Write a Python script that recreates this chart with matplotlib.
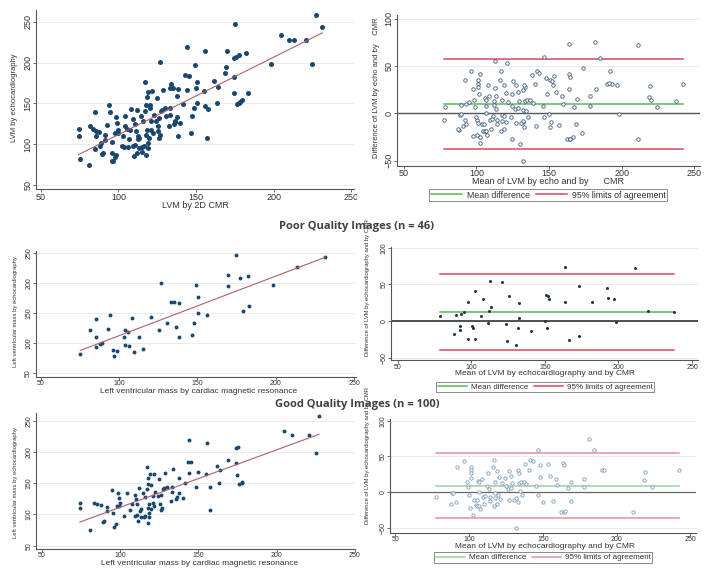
import numpy as np
import matplotlib
matplotlib.use("Agg")
import matplotlib.pyplot as plt
from matplotlib.lines import Line2D
from matplotlib.transforms import Bbox

plt.rcParams["font.family"] = ["Liberation Sans", "DejaVu Sans"]

W, H = 714, 573

# LVM (g)
poor_cmr = [75.3, 81.7, 85.1, 85.3, 85.1, 88.1, 89.0, 93.0, 94.3, 96.0,
            96.6, 98.5, 103.2, 104.0, 103.8, 105.7, 106.2, 108.3, 109.8, 112.6,
            115.1, 120.2, 125.5, 127.0, 130.4, 133.2, 134.9, 136.4, 138.3, 138.1,
            146.6, 147.7, 149.4, 150.6, 150.6, 156.0, 169.4, 169.8, 174.9, 177.4,
            182.3, 179.4, 183.2, 198.5, 213.4, 231.3]
poor_echo = [81.7, 122.8, 140.0, 110.6, 93.9, 98.3, 101.0, 123.3, 147.8, 88.9,
             79.4, 86.7, 110.6, 122.8, 96.7, 118.9, 96.1, 142.8, 85.6, 110.0,
             90.0, 144.4, 121.7, 200.6, 133.9, 168.3, 169.4, 127.2, 167.8, 110.6,
             113.9, 133.9, 197.2, 176.7, 150.0, 146.7, 195.0, 214.4, 247.2, 208.9,
             211.7, 153.9, 162.8, 197.8, 227.2, 243.9]

good_cmr = [74.4, 74.4, 81.1, 83.5, 85.6, 87.7, 89.2, 89.8, 91.5, 91.5,
            94.7, 95.6, 96.2, 97.7, 97.9, 98.7, 99.4, 99.6, 99.8, 102.3,
            104.2, 106.6, 107.8, 109.3, 109.3, 110.4, 110.8, 111.2, 112.1, 111.7,
            112.5, 113.6, 114.6, 115.1, 115.9, 116.3, 117.2, 117.4, 117.8, 118.0,
            118.4, 118.2, 118.9, 120.1, 119.7, 120.8, 121.6, 121.0, 122.0, 124.4,
            125.0, 126.3, 126.9, 127.3, 128.2, 129.0, 129.9, 132.6, 133.9, 133.3,
            135.8, 136.4, 137.5, 137.9, 140.0, 141.5, 143.2, 144.1, 143.9, 145.3,
            149.8, 148.7, 155.1, 155.7, 157.2, 157.6, 161.9, 163.3, 164.2, 168.9,
            174.2, 175.7, 174.2, 174.6, 176.1, 177.8, 178.2, 204.9, 210.0, 220.6,
            225.0, 227.1, 117.8, 122.7, 133.3, 126.0, 118.8, 118.8, 113.6, 125.5]
good_echo = [118.7, 109.7, 74.4, 118.7, 116.6, 115.0, 87.8, 88.8, 111.8, 105.4,
             139.5, 102.7, 79.2, 84.0, 113.9, 133.7, 126.2, 113.9, 117.7, 97.9,
             134.2, 106.5, 117.1, 131.0, 97.9, 124.6, 99.5, 116.1, 142.2, 89.0,
             105.9, 95.3, 134.7, 96.3, 128.3, 97.4, 140.1, 176.4, 110.7, 86.7,
             117.1, 158.2, 164.1, 147.5, 108.1, 128.9, 164.6, 117.7, 113.4, 128.9,
             156.1, 107.5, 110.7, 140.1, 142.2, 166.8, 144.3, 121.9, 173.2, 144.3,
             125.1, 127.8, 133.7, 158.8, 125.7, 149.7, 184.4, 166.2, 219.0, 183.3,
             168.4, 144.3, 164.6, 214.2, 107.0, 143.3, 176.9, 150.7, 170.5, 187.0,
             205.7, 207.3, 182.2, 163.0, 149.1, 150.7, 151.3, 233.5, 227.1, 227.6,
             197.7, 258.0, 148.2, 135.4, 135.4, 131.5, 101.8, 95.4, 108.0, 116.0]

all_cmr = poor_cmr + good_cmr
all_echo = poor_echo + good_echo

title_poor = "Poor Quality Images (n = 46)"
title_good = "Good Quality Images (n = 100)"

NAVY = "#1a476f"
fig = plt.figure(figsize=(W / 100, H / 100), dpi=100)


def axes_at(xref, yref, xlim, ylim):
    # place an axes so that the given data values land on the given pixels
    (xv1, xp1), (xv2, xp2) = xref
    sx = (xp2 - xp1) / (xv2 - xv1)
    left = xp1 + (xlim[0] - xv1) * sx
    right = xp1 + (xlim[1] - xv1) * sx
    (yv1, yp1), (yv2, yp2) = yref
    sy = (yp2 - yp1) / (yv2 - yv1)
    bottom = yp1 + (ylim[0] - yv1) * sy
    top = yp1 + (ylim[1] - yv1) * sy
    ax = fig.add_axes([left / W, 1 - bottom / H, (right - left) / W, (bottom - top) / H])
    ax.set_xlim(xlim)
    ax.set_ylim(ylim)
    for s in ("top", "right"):
        ax.spines[s].set_visible(False)
    for s in ("left", "bottom"):
        ax.spines[s].set_color("#555555")
        ax.spines[s].set_linewidth(0.8)
    ax.set_axisbelow(True)
    return ax


def style(ax, yticks, size, xlabel, xl_px, ylabel, yl_px, xsize, ysize):
    ax.set_xticks([50, 100, 150, 200, 250])
    ax.set_yticks(yticks)
    ax.grid(axis="y", color="#e8e8e8", lw=0.6)
    ax.tick_params(length=2, width=0.6, color="#555555", labelsize=size, pad=0.5,
                   labelcolor="#333333")
    plt.setp(ax.get_yticklabels(), rotation=90, va="center")
    ax.set_xlabel(xlabel, fontsize=xsize, color="#333333")
    ax.xaxis.set_label_coords(xl_px[0] / W, 1 - xl_px[1] / H, transform=fig.transFigure)
    ax.xaxis.label.set_va("center")
    ax.set_ylabel(ylabel, fontsize=ysize, color="#333333")
    ax.yaxis.set_label_coords(yl_px[0] / W, 1 - yl_px[1] / H, transform=fig.transFigure)
    ax.yaxis.label.set_va("center")


def scatter_panel(ax, cmr, echo, ms):
    cmr = np.asarray(cmr)
    echo = np.asarray(echo)
    ax.plot(cmr, echo, "o", ms=ms, color=NAVY, mec=NAVY, mew=0)
    b, a = np.polyfit(cmr, echo, 1)
    xs = np.array([cmr.min(), cmr.max()])
    ax.plot(xs, a + b * xs, color="#b0606a", lw=0.8)


def ba_panel(ax, cmr, echo, mkw, green, red, zero_kw):
    cmr = np.asarray(cmr)
    echo = np.asarray(echo)
    mean = (cmr + echo) / 2
    diff = echo - cmr
    md = diff.mean()
    sd = diff.std(ddof=1)
    ax.axhline(0, **zero_kw)
    xs = [mean.min(), mean.max()]
    ax.plot(xs, [md, md], color=green, lw=1.1)
    ax.plot(xs, [md + 1.96 * sd] * 2, color=red, lw=1.1)
    ax.plot(xs, [md - 1.96 * sd] * 2, color=red, lw=1.1)
    ax.plot(mean, diff, "o", **mkw)
    return green, red


def ba_legend(ax, green, red, center, size):
    handles = [Line2D([], [], color=green, lw=1.1), Line2D([], [], color=red, lw=1.1)]
    leg = ax.legend(handles, ["Mean difference", "95% limits of agreement"],
                    loc="center", bbox_to_anchor=(center[0] / W, 1 - center[1] / H),
                    bbox_transform=fig.transFigure, ncol=2, fontsize=size,
                    frameon=True, fancybox=False, edgecolor="#777777", framealpha=1,
                    handlelength=3.6, columnspacing=0.7, handletextpad=0.5,
                    borderpad=0.2, borderaxespad=0)
    leg.get_frame().set_linewidth(0.6)
    for t in leg.get_texts():
        t.set_color("#333333")


# ---- top row: all patients
ax1 = axes_at(((50, 40.7), (250, 351.3)), ((50, 185.0), (250, 21.7)), (47, 252), (45, 264))
scatter_panel(ax1, all_cmr, all_echo, 3.6)
style(ax1, [50, 100, 150, 200, 250], 6.5, "LVM by 2D CMR", (195, 205.5),
      "LVM by echocardiography", (15, 98), 6.5, 5.5)
# the source image is cut just right of the last x label
ax1.get_xticklabels()[-1].set_clip_box(Bbox([[0, 0], [357, H]]))
ax1.get_xticklabels()[-1].set_clip_on(True)

ax2 = axes_at(((50, 403.7), (250, 694.3)), ((-50, 160.6), (100, 18.7)), (45.4, 254), (-55.4, 104))
g, r = ba_panel(ax2, all_cmr, all_echo,
                dict(ms=2.5, mfc="white", mec="#3d5a78", mew=0.6),
                "#5cb85c", "#d9465f", dict(color="#555555", lw=1.0))
style(ax2, [-50, 0, 50, 100], 6.5, "Mean of LVM by echo and by      CMR", (548, 181.5),
      "Difference of LVM by echo and by    CMR", (377, 88), 6.5, 5.5)
ba_legend(ax2, g, r, (548, 195), 6.3)

# ---- middle row: poor quality images
fig.text(357 / W, 1 - 227 / H, title_poor, ha="center", va="center", fontsize=8,
         fontweight="bold", color="#404040", family=["Open Sans", "DejaVu Sans"])

ax3 = axes_at(((50, 40.7), (200, 275.7)), ((50, 373.3), (250, 253.3)), (46.8, 251.5), (44.3, 253.7))
scatter_panel(ax3, poor_cmr, poor_echo, 2.8)
style(ax3, [50, 100, 150, 200, 250], 5.0,
      "Left ventricular mass by cardiac magnetic resonance", (199, 391.5),
      "Left ventricular mass by echocardiography", (15, 312), 6.0, 4.2)

ax4 = axes_at(((50, 397.7), (250, 692.0)), ((-50, 357.7), (100, 247.7)), (45.4, 254), (-53.2, 101.3))
g, r = ba_panel(ax4, poor_cmr, poor_echo,
                dict(ms=2.2, color="#1f3550", mew=0),
                "#5cb85c", "#d9465f", dict(color="#222222", lw=1.1))
style(ax4, [-50, 0, 50, 100], 5.0,
      "Mean of LVM by echocardiography and by CMR", (545, 373.5),
      "Difference of LVM by echocardiography and by CMR", (368, 288), 6.0, 4.2)
ba_legend(ax4, g, r, (545, 387), 5.8)

# ---- bottom row: good quality images
fig.text(357 / W, 1 - 405 / H, title_good, ha="center", va="center", fontsize=8,
         fontweight="bold", color="#404040", family=["Open Sans", "DejaVu Sans"])

ax5 = axes_at(((50, 41.7), (200, 277.7)), ((50, 545.7), (250, 420.7)), (46.2, 249), (44.7, 262.3))
scatter_panel(ax5, good_cmr, good_echo, 2.8)
style(ax5, [50, 100, 150, 200, 250], 5.0,
      "Left ventricular mass by cardiac magnetic resonance", (200, 563.5),
      "Left ventricular mass by echocardiography", (15, 483), 6.0, 4.2)

ax6 = axes_at(((50, 395.3), (250, 690.3)), ((-50, 528.0), (100, 420.7)), (46.6, 254), (-56.7, 102.8))
g, r = ba_panel(ax6, good_cmr, good_echo,
                dict(ms=2.4, mfc="white", mec="#7d9bb8", mew=0.6),
                "#9ccf9c", "#e7909c", dict(color="#666666", lw=0.9))
style(ax6, [-50, 0, 50, 100], 5.0,
      "Mean of LVM by echocardiography and by CMR", (545, 546),
      "Difference of LVM by echocardiography and by CMR", (368, 455), 6.0, 4.2)
ba_legend(ax6, g, r, (543, 557.5), 5.8)

fig.savefig("out.png", dpi=100)
